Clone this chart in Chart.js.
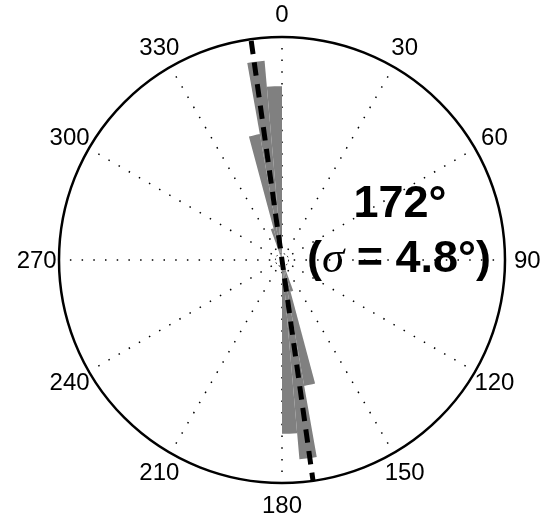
<!DOCTYPE html>
<html><head><meta charset="utf-8">
<script src="https://cdn.jsdelivr.net/npm/chart.js@4.4.1/dist/chart.umd.min.js"></script>
<style>html,body{margin:0;padding:0;background:#fff;} #wrap{position:relative;width:551px;height:525px;}</style>
</head><body><div id="wrap"><canvas id="c"></canvas></div>
<script>
// ---- data ----
const binWidth = 5;                                   // degrees per rose bin
const binStartAngles = [160, 165, 170, 175, 340, 345, 350, 355];
const binCounts      = [5, 19.5, 30.5, 26.5, 5, 19.5, 30.5, 26.5];
const rGridValues = [0, 1, 34];                       // radial grid circles (inner dotted, outer frame)
const angleTicks = [0, 30, 60, 90, 120, 150, 180, 210, 240, 270, 300, 330];
const angleTickLabels = ['0', '30', '60', '90', '120', '150', '180', '210', '240', '270', '300', '330'];
const meanDirection = 172;
const sigmaValue = 4.8;
const line1Text = meanDirection + '°';
const line2Parts = ['(', 'σ', ' = ' + sigmaValue + '°)'];

// ---- build the tables the library needs ----
const nBins = 360 / binWidth;
const binLabels = [];
const binData = [];
for (let i = 0; i < nBins; i++) { binLabels.push(String(i * binWidth)); binData.push(0); }
binStartAngles.forEach((a, k) => { binData[a / binWidth] = binCounts[k]; });

const SANS = '"Liberation Sans", Arial, Helvetica, sans-serif';

const overlay = {
  id: 'overlay',
  afterDatasetsDraw(chart) {
    const s = chart.scales.r, ctx = chart.ctx;
    const R = s.getDistanceFromCenterForValue(s.max);
    const th = meanDirection * Math.PI / 180;
    const x1 = s.xCenter - R * Math.sin(th), y1 = s.yCenter + R * Math.cos(th);
    const x2 = s.xCenter + R * Math.sin(th), y2 = s.yCenter - R * Math.cos(th);
    ctx.save();
    ctx.strokeStyle = '#000';
    ctx.lineWidth = 5;
    ctx.lineCap = 'butt';
    ctx.setLineDash([13.4, 8.4]);
    ctx.lineDashOffset = -1.7;
    ctx.beginPath(); ctx.moveTo(x1, y1); ctx.lineTo(x2, y2); ctx.stroke();
    ctx.restore();
  },
  afterDraw(chart) {
    const s = chart.scales.r, ctx = chart.ctx;
    const R = s.getDistanceFromCenterForValue(s.max);
    ctx.save();
    ctx.fillStyle = '#000';
    ctx.font = '24px ' + SANS;
    ctx.textAlign = 'center';
    ctx.textBaseline = 'middle';
    angleTicks.forEach((a, k) => {
      const p = s.getPointPosition(a / binWidth, R * 1.1);
      ctx.fillText(angleTickLabels[k], p.x, p.y + 1);
    });
    // annotation
    ctx.textBaseline = 'alphabetic';
    ctx.font = 'bold 45px ' + SANS;
    ctx.fillText(line1Text, s.xCenter + 118, s.yCenter - 43);
    const fonts = ['bold 45px ' + SANS, 'italic 45px "Liberation Serif", "Times New Roman", serif', 'bold 45px ' + SANS];
    let widths = line2Parts.map((t, i) => { ctx.font = fonts[i]; return ctx.measureText(t).width; });
    const total = widths.reduce((a, b) => a + b, 0);
    let x = s.xCenter + 117 - total / 2;
    ctx.textAlign = 'left';
    line2Parts.forEach((t, i) => { ctx.font = fonts[i]; ctx.fillText(t, x, s.yCenter + 12); x += widths[i]; });
    ctx.restore();
  }
};

new Chart(document.getElementById('c'), {
  type: 'polarArea',
  data: {
    labels: binLabels,
    datasets: [{ data: binData, backgroundColor: '#808080', borderWidth: 0 }]
  },
  options: {
    responsive: true,
    maintainAspectRatio: false,
    animation: false,
    layout: { padding: { left: 59, right: 46, top: 37, bottom: 42 } },
    plugins: { legend: { display: false }, tooltip: { enabled: false } },
    scales: {
      r: {
        min: rGridValues[0],
        max: rGridValues[rGridValues.length - 1],
        startAngle: 0,
        ticks: { display: false },
        afterBuildTicks: (sc) => { sc.ticks = rGridValues.map(v => ({ value: v })); },
        grid: {
          circular: true,
          color: '#000',
          lineWidth: (c) => c.index === rGridValues.length - 1 ? 2.5 : 1
        },
        border: { dash: (c) => c.index === rGridValues.length - 1 ? [] : [1.5, 2.5] },
        angleLines: {
          display: true,
          color: '#000',
          lineWidth: (c) => ((c.index * binWidth) % 30 === 0 ? 1.5 : 0),
          borderDash: [1.5, 10.2]
        },
        pointLabels: { display: false }
      }
    }
  },
  plugins: [overlay]
});
</script>
</body></html>
